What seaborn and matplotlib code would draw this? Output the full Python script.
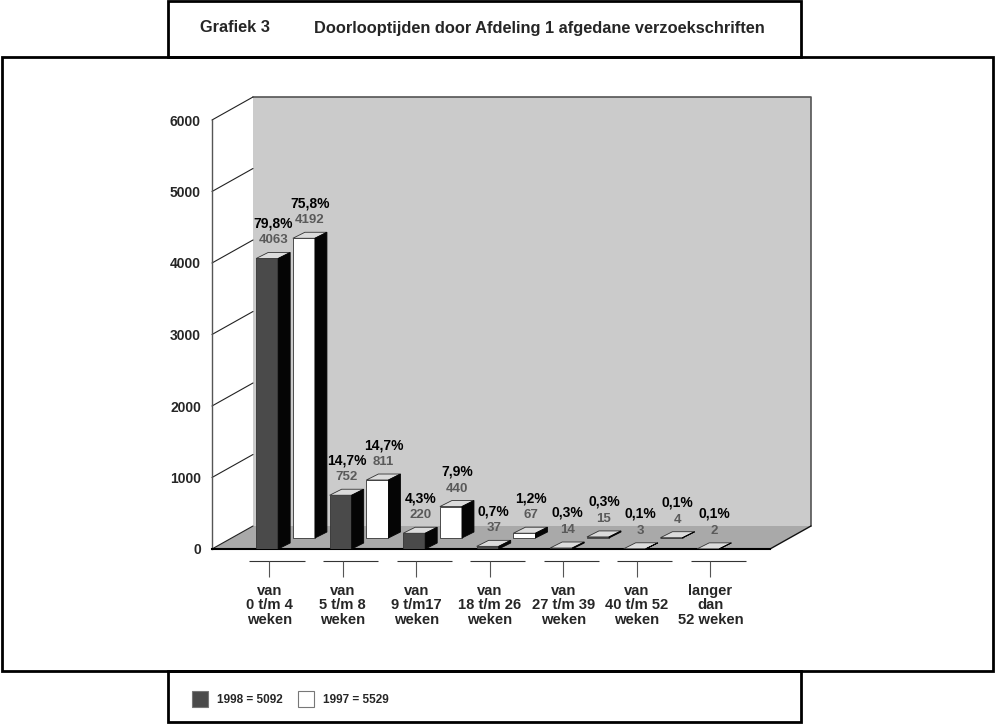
import numpy as np
import pandas as pd
import matplotlib
matplotlib.use("Agg")
import matplotlib.pyplot as plt
import seaborn as sns
from matplotlib.patches import Polygon, Rectangle, Patch

# data
categories = [
    "van\n0 t/m 4\nweken",
    "van\n5 t/m 8\nweken",
    "van\n9 t/m17\nweken",
    "van\n18 t/m 26\nweken",
    "van\n27 t/m 39\nweken",
    "van\n40 t/m 52\nweken",
    "langer\ndan\n52 weken",
]
years = ["1998", "1997"]
counts_1998 = [4063, 752, 220, 37, 14, 3, 2]
pct_1998 = ["79,8%", "14,7%", "4,3%", "0,7%", "0,3%", "0,1%", "0,1%"]
counts_1997 = [4192, 811, 440, 67, 15, 4, None]
pct_1997 = ["75,8%", "14,7%", "7,9%", "1,2%", "0,3%", "0,1%", None]
totals = {"1998": 5092, "1997": 5529}
yticks = [0, 1000, 2000, 3000, 4000, 5000, 6000]

title_left = "Grafiek 3"
title_main = "Doorlooptijden door Afdeling 1 afgedane verzoekschriften"

front_colors = {"1998": "#4a4a4a", "1997": "#ffffff"}
top_color = "#dcdcdc"
side_color = "#050505"

rows = []
for year, counts in (("1998", counts_1998), ("1997", counts_1997)):
    for cat, v in zip(categories, counts):
        if v is not None:
            rows.append({"categorie": cat, "jaar": year, "aantal": v})
df = pd.DataFrame(rows)
pct = {"1998": pct_1998, "1997": pct_1997}
cnt = {"1998": counts_1998, "1997": counts_1997}

sns.set_theme(style="white")
plt.rcParams["font.family"] = ["Liberation Sans", "DejaVu Sans"]
plt.rcParams["font.weight"] = "bold"

W, H = 996, 726
fig = plt.figure(figsize=(W / 100, H / 100), dpi=100)


def fx(px):
    return px / W


def fy(py):
    return 1 - py / H


ax = fig.add_axes([fx(212), fy(549), fx(770) - fx(212), fy(120) - fy(549)])
ax.set_facecolor("none")

sns.barplot(data=df, x="categorie", y="aantal", hue="jaar", order=categories,
            hue_order=years, palette=front_colors, width=1.0, gap=0.4,
            errorbar=None, edgecolor="#333333", linewidth=0.6, legend=False,
            ax=ax)

ax.set_xlim(-1.0, 6.59)
ax.set_ylim(0, 6000)
x0, x1 = ax.get_xlim()
px_x = ax.bbox.width / (x1 - x0)
px_y = ax.bbox.height / 6000

# pseudo 3D depth (pixels -> data units)
wdx, wdy = 41 / px_x, 23 / px_y
bdx, bdy = 12 / px_x, 6 / px_y
lift = 11 / px_y

# walls and floor
ax.add_patch(Rectangle((x0 + wdx, wdy), x1 - x0, 6000, facecolor="#cbcbcb",
                       edgecolor="none", zorder=0, clip_on=False))
ax.plot([x0 + wdx, x1 + wdx, x1 + wdx], [6000 + wdy, 6000 + wdy, wdy],
        color="#555555", lw=1.2, clip_on=False, zorder=0.2)
ax.add_patch(Polygon([(x0, 0), (x1, 0), (x1 + wdx, wdy), (x0 + wdx, wdy)],
                     facecolor="#a9a9a9", edgecolor="none", zorder=0.5,
                     clip_on=False))
ax.plot([x1, x1 + wdx], [0, wdy], color="#111111", lw=1, clip_on=False)
for v in yticks:
    ax.plot([x0, x0 + wdx], [v, v + wdy], color="#222222", lw=0.8,
            clip_on=False, zorder=0.6)

for p in list(ax.patches):
    if not isinstance(p, Rectangle) or p.get_width() > 1:
        continue
    back = p.get_facecolor()[0] > 0.9
    year = "1997" if back else "1998"
    x, w = p.get_x(), p.get_width()
    i = int(round(x + w / 2 + (-0.25 if back else 0.25)))
    y = lift if back else 0
    p.set_y(y)
    h = p.get_height()
    z = 2 if back else 3
    p.set_zorder(z)
    ax.add_patch(Polygon([(x, y + h), (x + w, y + h), (x + w + bdx, y + h + bdy),
                          (x + bdx, y + h + bdy)], facecolor=top_color,
                         edgecolor="#333333", lw=0.6, zorder=z))
    ax.add_patch(Polygon([(x + w, y), (x + w + bdx, y + bdy),
                          (x + w + bdx, y + h + bdy), (x + w, y + h)],
                         facecolor=side_color, edgecolor=side_color, lw=0.6,
                         zorder=z))
    xc = x + w / 2 + bdx / 2
    ax.annotate(str(cnt[year][i]), xy=(xc, y + h), xytext=(0, 18),
                textcoords="offset pixels", ha="center", va="center",
                fontsize=9.5, color="#5a5a5a", fontweight="bold", zorder=5)
    ax.annotate(pct[year][i], xy=(xc, y + h), xytext=(0, 35),
                textcoords="offset pixels", ha="center", va="center",
                fontsize=10, color="black", fontweight="bold", zorder=5)

# axes styling
for s in ["top", "right"]:
    ax.spines[s].set_visible(False)
ax.spines["left"].set_color("#555555")
ax.spines["left"].set_linewidth(1)
ax.spines["bottom"].set_color("black")
ax.spines["bottom"].set_linewidth(1.5)

ticks = np.arange(len(categories)) - 0.22
ax.set_xticks(ticks, categories)
ax.set_yticks(yticks, [str(v) for v in yticks])
ax.tick_params(axis="x", length=0, pad=25, labelsize=10.6)
ax.tick_params(axis="y", length=0, pad=8, labelsize=10)
for lab in ax.get_xticklabels():
    lab.set_fontweight("bold")
    lab.set_linespacing(1.05)
for lab in ax.get_yticklabels():
    lab.set_fontweight("bold")
ax.set_xlabel("")
ax.set_ylabel("")
ax.grid(False)

seg_y = -12 / px_y
ax.hlines([seg_y] * len(ticks), ticks - 0.27, ticks + 0.48, color="#333333",
          lw=0.8, clip_on=False)
ax.vlines(ticks, -28 / px_y, seg_y, color="#555555", lw=0.8, clip_on=False)

# frames
fig.add_artist(Rectangle((fx(2), fy(671)), fx(993) - fx(2), fy(57) - fy(671),
                         transform=fig.transFigure, fill=False,
                         edgecolor="black", lw=2))
fig.add_artist(Rectangle((fx(168), fy(57)), fx(801) - fx(168), fy(1) - fy(57),
                         transform=fig.transFigure, fill=False,
                         edgecolor="black", lw=2))
fig.add_artist(Rectangle((fx(168), fy(722)), fx(801) - fx(168), fy(671) - fy(722),
                         transform=fig.transFigure, fill=False,
                         edgecolor="black", lw=2))

fig.text(fx(200), fy(28), title_left, ha="left", va="center", fontsize=11.8,
         fontweight="bold")
fig.text(fx(314), fy(28), title_main, ha="left", va="center", fontsize=11.8,
         fontweight="bold")

handles = [Patch(facecolor=front_colors[y], edgecolor="#777777", lw=0.8)
           for y in years]
labels = [f"{y} = {totals[y]}" for y in years]
fig.legend(handles, labels, loc="center left", bbox_to_anchor=(fx(192), fy(699)),
           ncol=2, frameon=False, prop={"weight": "bold", "size": 8.5},
           handlelength=1.35, handleheight=1.7, handletextpad=0.75,
           columnspacing=1.35, borderpad=0, borderaxespad=0)

fig.savefig("out.png", dpi=100)
